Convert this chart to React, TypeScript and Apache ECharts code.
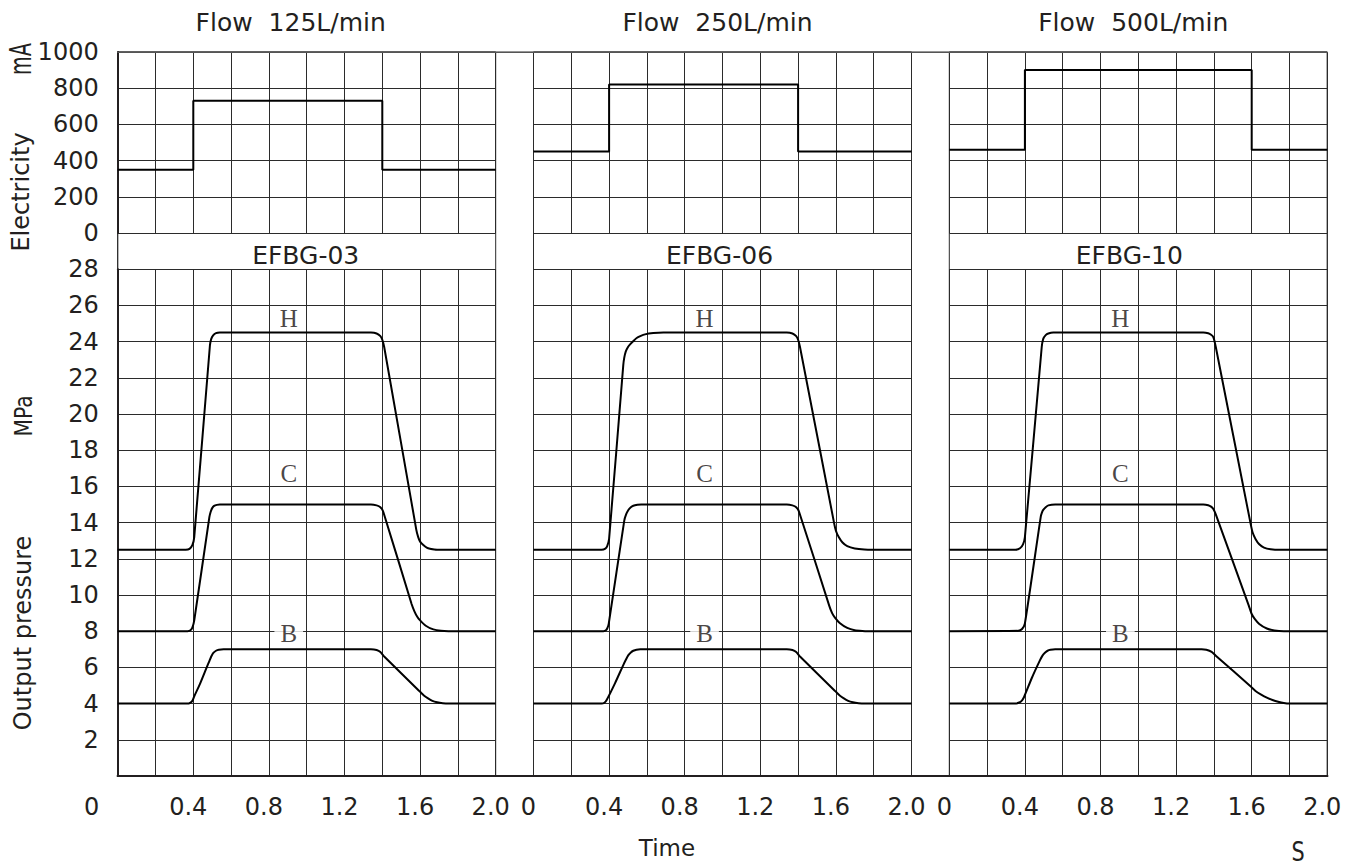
import { useEffect, useRef } from 'react';
import * as echarts from 'echarts';

// ---------- data ----------
const flowTitles = ['Flow  125L/min', 'Flow  250L/min', 'Flow  500L/min'];
const valveModels = ['EFBG-03', 'EFBG-06', 'EFBG-10'];
const curveNames = ['H', 'C', 'B'];

// Electricity (mA) step profiles: [time s, current mA]
const current125 = [[0, 350], [0.4, 730], [1.4, 350], [2.0, 350]];
const current250 = [[0, 450], [0.4, 820], [1.4, 450], [2.0, 450]];
const current500 = [[0, 460], [0.4, 900], [1.6, 460], [2.0, 460]];

// Output pressure (MPa) curves: [time s, pressure MPa]
const efbg03H = [[0, 12.5], [0.36, 12.5], [0.38, 12.55], [0.395, 12.75], [0.405, 13.2], [0.488, 23.8], [0.495, 24.15], [0.505, 24.35], [0.52, 24.47], [0.54, 24.5], [1.34, 24.5], [1.37, 24.45], [1.39, 24.3], [1.40, 24.1], [1.41, 23.7], [1.58, 13.6], [1.59, 13.2], [1.60, 12.95], [1.617, 12.76], [1.635, 12.62], [1.652, 12.56], [1.69, 12.5], [2.0, 12.5]];
const efbg03C = [[0, 8], [0.37, 8], [0.385, 8.05], [0.395, 8.2], [0.405, 8.6], [0.485, 14.3], [0.492, 14.6], [0.50, 14.8], [0.51, 14.92], [0.525, 14.98], [0.54, 15.0], [1.34, 15.0], [1.37, 14.95], [1.39, 14.85], [1.405, 14.6], [1.555, 9.5], [1.57, 9.1], [1.585, 8.8], [1.60, 8.6], [1.63, 8.3], [1.67, 8.1], [1.71, 8.02], [1.75, 8], [2.0, 8]];
const efbg03B = [[0, 4], [0.37, 4], [0.385, 4.06], [0.395, 4.15], [0.405, 4.4], [0.436, 5.1], [0.471, 6.0], [0.485, 6.35], [0.495, 6.6], [0.506, 6.8], [0.52, 6.92], [0.535, 6.98], [0.56, 7.0], [1.34, 7.0], [1.37, 6.96], [1.39, 6.85], [1.41, 6.6], [1.59, 4.75], [1.60, 4.65], [1.62, 4.45], [1.64, 4.3], [1.665, 4.15], [1.69, 4.07], [1.72, 4.02], [1.75, 4], [2.0, 4]];

const efbg06H = [[0, 12.5], [0.36, 12.5], [0.38, 12.56], [0.39, 12.7], [0.40, 13.1], [0.475, 22.7], [0.48, 23.1], [0.488, 23.45], [0.50, 23.7], [0.511, 23.85], [0.53, 24.05], [0.546, 24.2], [0.565, 24.3], [0.59, 24.4], [0.634, 24.47], [0.687, 24.5], [1.34, 24.5], [1.37, 24.45], [1.39, 24.3], [1.40, 24.1], [1.41, 23.7], [1.59, 14.0], [1.60, 13.55], [1.615, 13.2], [1.635, 12.9], [1.66, 12.7], [1.70, 12.57], [1.75, 12.51], [1.8, 12.5], [2.0, 12.5]];
const efbg06C = [[0, 8], [0.37, 8], [0.383, 8.05], [0.39, 8.15], [0.398, 8.4], [0.48, 14.1], [0.49, 14.45], [0.502, 14.7], [0.515, 14.85], [0.528, 14.93], [0.55, 14.98], [0.57, 15.0], [1.34, 15.0], [1.37, 14.95], [1.39, 14.85], [1.405, 14.6], [1.565, 9.4], [1.58, 9.0], [1.595, 8.75], [1.62, 8.45], [1.66, 8.18], [1.70, 8.05], [1.74, 8.01], [1.77, 8], [2.0, 8]];
const efbg06B = [[0, 4], [0.36, 4], [0.375, 4.05], [0.387, 4.2], [0.431, 5.12], [0.475, 6.13], [0.49, 6.45], [0.502, 6.68], [0.515, 6.83], [0.528, 6.92], [0.545, 6.98], [0.565, 7.0], [1.34, 7.0], [1.37, 6.96], [1.39, 6.85], [1.41, 6.6], [1.59, 4.75], [1.60, 4.65], [1.62, 4.45], [1.64, 4.3], [1.665, 4.15], [1.69, 4.07], [1.72, 4.02], [1.75, 4], [2.0, 4]];

const efbg10H = [[0, 12.5], [0.35, 12.5], [0.374, 12.58], [0.39, 12.8], [0.40, 13.2], [0.489, 23.7], [0.497, 24.15], [0.51, 24.36], [0.524, 24.45], [0.55, 24.5], [1.344, 24.5], [1.37, 24.46], [1.385, 24.38], [1.397, 24.25], [1.41, 23.7], [1.595, 13.9], [1.605, 13.45], [1.62, 13.1], [1.64, 12.8], [1.665, 12.62], [1.70, 12.53], [1.75, 12.5], [2.0, 12.5]];
const efbg10C = [[0, 8], [0.365, 8.02], [0.385, 8.12], [0.40, 8.43], [0.484, 14.33], [0.49, 14.55], [0.497, 14.7], [0.51, 14.85], [0.524, 14.95], [0.56, 15.0], [1.344, 15.0], [1.37, 14.96], [1.385, 14.88], [1.397, 14.75], [1.41, 14.45], [1.585, 9.4], [1.60, 8.95], [1.615, 8.7], [1.64, 8.4], [1.68, 8.15], [1.72, 8.04], [1.77, 8], [2.0, 8]];
const efbg10B = [[0, 4], [0.348, 4], [0.37, 4.06], [0.385, 4.18], [0.395, 4.35], [0.436, 5.4], [0.48, 6.4], [0.493, 6.65], [0.506, 6.81], [0.52, 6.92], [0.535, 6.97], [0.56, 7.0], [1.335, 7.0], [1.36, 6.97], [1.388, 6.86], [1.41, 6.65], [1.595, 4.95], [1.62, 4.7], [1.65, 4.5], [1.68, 4.33], [1.71, 4.2], [1.74, 4.1], [1.77, 4.03], [1.8, 4], [2.0, 4]];

// label anchor points for H / C / B: [time s, pressure MPa]
const curveLabelPos = [[0.905, 25.3], [0.905, 16.7], [0.905, 7.85]];

const currents = [current125, current250, current500];
const pressures = [
  [efbg03H, efbg03C, efbg03B],
  [efbg06H, efbg06C, efbg06B],
  [efbg10H, efbg10C, efbg10B],
];

// ---------- layout ----------
const CW = 37.8; // column width (0.2 s)
const RH = 36.2; // row height
const L0 = 117.7;
const T0 = 52;
const INK = '#231f20';
const GRIDC = '#2b2b2b';
const SANS = 'DejaVu Sans';

function buildOption() {
  const grid: any[] = [];
  const xAxis: any[] = [];
  const yAxis: any[] = [];
  const series: any[] = [];
  const hidden = { show: false };

  // overall frame (continuous top & bottom border)
  grid.push({ left: L0, top: T0, width: 32 * CW, height: 20 * RH, show: true, borderColor: GRIDC, borderWidth: 1, backgroundColor: 'transparent' });
  xAxis.push({
    gridIndex: 0, type: 'value', min: 0, max: 1, position: 'bottom',
    axisLine: { show: true, onZero: false, lineStyle: { color: INK, width: 2 } },
    axisTick: hidden, axisLabel: hidden, splitLine: hidden,
  });
  xAxis.push({
    gridIndex: 0, type: 'value', min: 0, max: 1, position: 'top',
    axisLine: { show: true, onZero: false, lineStyle: { color: '#555', width: 1.2 } },
    axisTick: hidden, axisLabel: hidden, splitLine: hidden,
  });
  yAxis.push({ gridIndex: 0, type: 'value', min: 0, max: 1, show: false });

  for (let i = 0; i < 3; i++) {
    const left = L0 + i * 11 * CW;
    const gFrame = grid.length;
    grid.push({ left, top: T0, width: 10 * CW, height: 20 * RH, show: true, borderColor: GRIDC, borderWidth: 1, backgroundColor: 'transparent' });
    xAxis.push({ gridIndex: gFrame, type: 'value', min: 0, max: 1, show: false });
    yAxis.push({ gridIndex: gFrame, type: 'value', min: 0, max: 1, show: false });

    const gE = grid.length;
    grid.push({ left, top: T0, width: 10 * CW, height: 5 * RH });
    const xE = xAxis.length;
    xAxis.push({
      gridIndex: gE, type: 'value', min: 0, max: 2, interval: 0.2,
      axisLine: hidden, axisTick: hidden, axisLabel: hidden,
      splitLine: { show: true, lineStyle: { color: GRIDC, width: 1 } },
    });
    const yE = yAxis.length;
    yAxis.push({
      gridIndex: gE, type: 'value', min: 0, max: 1000, interval: 200,
      axisLine: { show: i === 0, lineStyle: { color: INK, width: 2 } }, axisTick: hidden,
      axisLabel: { show: i === 0, margin: 19, color: INK, fontFamily: SANS, fontSize: 24, formatter: (v: number) => String(v) },
      splitLine: { show: true, lineStyle: { color: GRIDC, width: 1 } },
    });

    const gP = grid.length;
    grid.push({ left, top: T0 + 6 * RH, width: 10 * CW, height: 14 * RH });
    const xP = xAxis.length;
    xAxis.push({
      gridIndex: gP, type: 'value', min: 0, max: 2, interval: 0.2,
      axisLine: { show: true, onZero: false, lineStyle: { color: INK, width: 2 } }, axisTick: hidden,
      axisLabel: {
        show: true, margin: 19, color: INK, fontFamily: SANS, fontSize: 24,
        padding: [0, 10, 0, 0], showMinLabel: true, showMaxLabel: true,
        formatter: (v: number) => {
          const k = Math.round(v * 10);
          if (k === 0) return i === 0 ? '{o|0}' : '0';
          return k % 4 === 0 ? (k / 10).toFixed(1) : '';
        },
        rich: { o: { fontFamily: SANS, fontSize: 24, color: INK, padding: [0, 42, 0, 0] } },
      },
      splitLine: { show: true, lineStyle: { color: GRIDC, width: 1 } },
    });
    const yP = yAxis.length;
    yAxis.push({
      gridIndex: gP, type: 'value', min: 0, max: 28, interval: 2,
      axisLine: { show: i === 0, onZero: false, lineStyle: { color: INK, width: 2 } }, axisTick: hidden,
      axisLabel: {
        show: i === 0, margin: 19, color: INK, fontFamily: SANS, fontSize: 24,
        formatter: (v: number) => (v === 0 ? '' : String(v)),
      },
      splitLine: { show: true, lineStyle: { color: GRIDC, width: 1 } },
    });

    series.push({
      type: 'line', name: `current-${i}`, xAxisIndex: xE, yAxisIndex: yE, data: currents[i],
      step: 'end', symbol: 'none', lineStyle: { color: '#000', width: 2 }, z: 5, silent: true,
    });
    pressures[i].forEach((d, k) => {
      series.push({
        type: 'line', name: `${valveModels[i]}-${curveNames[k]}`, xAxisIndex: xP, yAxisIndex: yP, data: d,
        smooth: 0.2, symbol: 'none', lineStyle: { color: '#000', width: 2 }, z: 5, silent: true,
      });
    });
    series.push({
      type: 'scatter', name: `labels-${i}`, xAxisIndex: xP, yAxisIndex: yP, symbolSize: 0, z: 6, silent: true,
      data: curveNames.map((n, k) => ({ name: n, value: curveLabelPos[k] })),
      label: {
        show: true, position: 'inside', formatter: '{b}', color: '#1a1414',
        fontFamily: 'Liberation Serif', fontSize: 25, lineHeight: 18,
        backgroundColor: '#fff', padding: [0, 6],
      },
    });
  }

  const text = (t: string, x: number, y: number, size: number, rot = 0, sx = 1) => ({
    type: 'text', x, y, rotation: rot, scaleX: sx, scaleY: 1, silent: true,
    style: { text: t, fill: INK, fontSize: size, fontFamily: SANS, align: 'center', verticalAlign: 'middle' },
  });
  const panelCenter = (i: number) => L0 + i * 11 * CW + 5 * CW;
  const graphic: any[] = [];
  flowTitles.forEach((t, i) => graphic.push(text(t, panelCenter(i) - [16, 5, 5][i], 22, 25)));
  valveModels.forEach((t, i) => graphic.push(text(t, panelCenter(i) - [1, 3, 9][i], 255, 25)));
  graphic.push(text('mA', 20, 59, 31, Math.PI / 2, 0.62));
  graphic.push(text('Electricity', 21, 192, 24, Math.PI / 2));
  graphic.push(text('MPa', 23, 416, 25, Math.PI / 2, 0.81));
  graphic.push(text('Output pressure', 23, 633, 24, Math.PI / 2));
  graphic.push(text('Time', 667, 848, 23));
  graphic.push(text('S', 1298, 852, 26, 0, 0.8));

  return { animation: false, backgroundColor: '#fff', grid, xAxis, yAxis, series, graphic };
}

export default function App() {
  const ref = useRef<HTMLDivElement>(null);
  useEffect(() => {
    document.body.style.margin = '0';
    const chart = echarts.init(ref.current!, undefined, { renderer: 'svg' });
    chart.setOption(buildOption() as any);
    return () => chart.dispose();
  }, []);
  return <div ref={ref} style={{ width: 1360, height: 868 }} />;
}
